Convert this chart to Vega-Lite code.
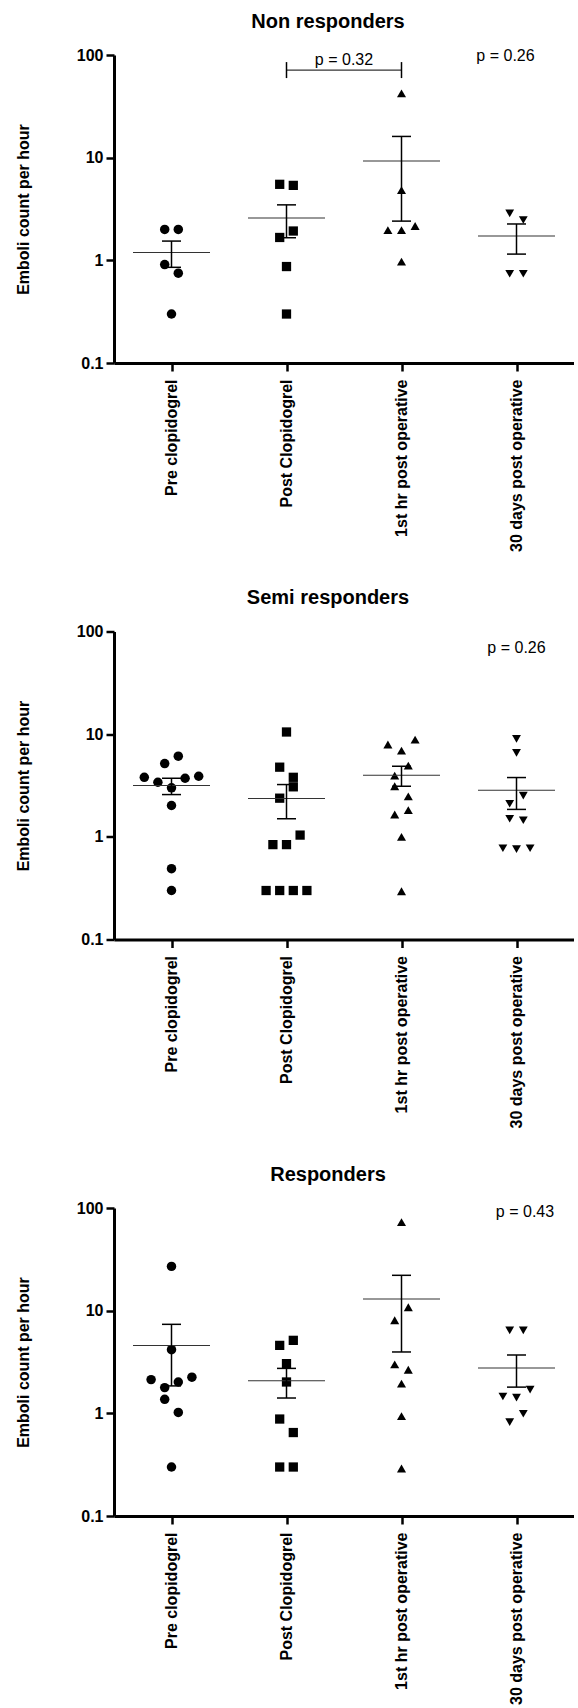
{
  "$schema": "https://vega.github.io/schema/vega-lite/v6.json",
  "padding": {"left": 15, "top": 11, "right": 0, "bottom": 0},
  "spacing": 35.5,
  "datasets": {
    "points": [
      {"panel": "Non responders", "cat": "Pre clopidogrel", "value": 2.0, "slot": -0.5},
      {"panel": "Non responders", "cat": "Pre clopidogrel", "value": 2.0, "slot": 0.5},
      {"panel": "Non responders", "cat": "Pre clopidogrel", "value": 0.91, "slot": -0.5},
      {"panel": "Non responders", "cat": "Pre clopidogrel", "value": 0.75, "slot": 0.5},
      {"panel": "Non responders", "cat": "Pre clopidogrel", "value": 0.30, "slot": 0},
      {"panel": "Non responders", "cat": "Post Clopidogrel", "value": 5.5, "slot": -0.5},
      {"panel": "Non responders", "cat": "Post Clopidogrel", "value": 5.37, "slot": 0.5},
      {"panel": "Non responders", "cat": "Post Clopidogrel", "value": 1.93, "slot": 0.5},
      {"panel": "Non responders", "cat": "Post Clopidogrel", "value": 1.67, "slot": -0.5},
      {"panel": "Non responders", "cat": "Post Clopidogrel", "value": 0.87, "slot": 0},
      {"panel": "Non responders", "cat": "Post Clopidogrel", "value": 0.30, "slot": 0},
      {"panel": "Non responders", "cat": "1st hr post operative", "value": 42.3, "slot": 0},
      {"panel": "Non responders", "cat": "1st hr post operative", "value": 4.83, "slot": 0},
      {"panel": "Non responders", "cat": "1st hr post operative", "value": 1.97, "slot": -1},
      {"panel": "Non responders", "cat": "1st hr post operative", "value": 1.97, "slot": 0},
      {"panel": "Non responders", "cat": "1st hr post operative", "value": 2.16, "slot": 1},
      {"panel": "Non responders", "cat": "1st hr post operative", "value": 0.97, "slot": 0},
      {"panel": "Non responders", "cat": "30 days post operative", "value": 2.87, "slot": -0.5},
      {"panel": "Non responders", "cat": "30 days post operative", "value": 2.47, "slot": 0.5},
      {"panel": "Non responders", "cat": "30 days post operative", "value": 0.74, "slot": -0.5},
      {"panel": "Non responders", "cat": "30 days post operative", "value": 0.74, "slot": 0.5},

      {"panel": "Semi responders", "cat": "Pre clopidogrel", "value": 6.1, "slot": 0.5},
      {"panel": "Semi responders", "cat": "Pre clopidogrel", "value": 5.17, "slot": -0.5},
      {"panel": "Semi responders", "cat": "Pre clopidogrel", "value": 3.80, "slot": -2},
      {"panel": "Semi responders", "cat": "Pre clopidogrel", "value": 3.40, "slot": -1},
      {"panel": "Semi responders", "cat": "Pre clopidogrel", "value": 3.72, "slot": 1},
      {"panel": "Semi responders", "cat": "Pre clopidogrel", "value": 3.89, "slot": 2},
      {"panel": "Semi responders", "cat": "Pre clopidogrel", "value": 3.0, "slot": 0},
      {"panel": "Semi responders", "cat": "Pre clopidogrel", "value": 2.02, "slot": 0},
      {"panel": "Semi responders", "cat": "Pre clopidogrel", "value": 0.49, "slot": 0},
      {"panel": "Semi responders", "cat": "Pre clopidogrel", "value": 0.30, "slot": 0},
      {"panel": "Semi responders", "cat": "Post Clopidogrel", "value": 10.5, "slot": 0},
      {"panel": "Semi responders", "cat": "Post Clopidogrel", "value": 4.77, "slot": -0.5},
      {"panel": "Semi responders", "cat": "Post Clopidogrel", "value": 3.80, "slot": 0.5},
      {"panel": "Semi responders", "cat": "Post Clopidogrel", "value": 3.07, "slot": 0.5},
      {"panel": "Semi responders", "cat": "Post Clopidogrel", "value": 2.38, "slot": -0.5},
      {"panel": "Semi responders", "cat": "Post Clopidogrel", "value": 1.04, "slot": 1},
      {"panel": "Semi responders", "cat": "Post Clopidogrel", "value": 0.84, "slot": -1},
      {"panel": "Semi responders", "cat": "Post Clopidogrel", "value": 0.84, "slot": 0},
      {"panel": "Semi responders", "cat": "Post Clopidogrel", "value": 0.30, "slot": -1.5},
      {"panel": "Semi responders", "cat": "Post Clopidogrel", "value": 0.30, "slot": -0.5},
      {"panel": "Semi responders", "cat": "Post Clopidogrel", "value": 0.30, "slot": 0.5},
      {"panel": "Semi responders", "cat": "Post Clopidogrel", "value": 0.30, "slot": 1.5},
      {"panel": "Semi responders", "cat": "1st hr post operative", "value": 8.85, "slot": 1},
      {"panel": "Semi responders", "cat": "1st hr post operative", "value": 7.93, "slot": -1},
      {"panel": "Semi responders", "cat": "1st hr post operative", "value": 6.92, "slot": 0},
      {"panel": "Semi responders", "cat": "1st hr post operative", "value": 4.94, "slot": 0.5},
      {"panel": "Semi responders", "cat": "1st hr post operative", "value": 3.95, "slot": -0.5},
      {"panel": "Semi responders", "cat": "1st hr post operative", "value": 3.11, "slot": -0.5},
      {"panel": "Semi responders", "cat": "1st hr post operative", "value": 2.48, "slot": 0.5},
      {"panel": "Semi responders", "cat": "1st hr post operative", "value": 1.65, "slot": -0.5},
      {"panel": "Semi responders", "cat": "1st hr post operative", "value": 1.82, "slot": 0.5},
      {"panel": "Semi responders", "cat": "1st hr post operative", "value": 1.0, "slot": 0},
      {"panel": "Semi responders", "cat": "1st hr post operative", "value": 0.295, "slot": 0},
      {"panel": "Semi responders", "cat": "30 days post operative", "value": 9.0, "slot": 0},
      {"panel": "Semi responders", "cat": "30 days post operative", "value": 6.57, "slot": 0},
      {"panel": "Semi responders", "cat": "30 days post operative", "value": 2.52, "slot": 0.5},
      {"panel": "Semi responders", "cat": "30 days post operative", "value": 2.10, "slot": -0.5},
      {"panel": "Semi responders", "cat": "30 days post operative", "value": 1.50, "slot": -0.5},
      {"panel": "Semi responders", "cat": "30 days post operative", "value": 1.45, "slot": 0.5},
      {"panel": "Semi responders", "cat": "30 days post operative", "value": 0.774, "slot": -1},
      {"panel": "Semi responders", "cat": "30 days post operative", "value": 0.76, "slot": 0},
      {"panel": "Semi responders", "cat": "30 days post operative", "value": 0.774, "slot": 1},

      {"panel": "Responders", "cat": "Pre clopidogrel", "value": 27.0, "slot": 0},
      {"panel": "Responders", "cat": "Pre clopidogrel", "value": 4.17, "slot": 0},
      {"panel": "Responders", "cat": "Pre clopidogrel", "value": 2.13, "slot": -1.5},
      {"panel": "Responders", "cat": "Pre clopidogrel", "value": 2.25, "slot": 1.5},
      {"panel": "Responders", "cat": "Pre clopidogrel", "value": 2.02, "slot": 0.5},
      {"panel": "Responders", "cat": "Pre clopidogrel", "value": 1.78, "slot": -0.5},
      {"panel": "Responders", "cat": "Pre clopidogrel", "value": 1.37, "slot": -0.5},
      {"panel": "Responders", "cat": "Pre clopidogrel", "value": 1.02, "slot": 0.5},
      {"panel": "Responders", "cat": "Pre clopidogrel", "value": 0.30, "slot": 0},
      {"panel": "Responders", "cat": "Post Clopidogrel", "value": 4.59, "slot": -0.5},
      {"panel": "Responders", "cat": "Post Clopidogrel", "value": 5.14, "slot": 0.5},
      {"panel": "Responders", "cat": "Post Clopidogrel", "value": 3.05, "slot": 0},
      {"panel": "Responders", "cat": "Post Clopidogrel", "value": 2.02, "slot": 0},
      {"panel": "Responders", "cat": "Post Clopidogrel", "value": 0.88, "slot": -0.5},
      {"panel": "Responders", "cat": "Post Clopidogrel", "value": 0.65, "slot": 0.5},
      {"panel": "Responders", "cat": "Post Clopidogrel", "value": 0.30, "slot": -0.5},
      {"panel": "Responders", "cat": "Post Clopidogrel", "value": 0.30, "slot": 0.5},
      {"panel": "Responders", "cat": "1st hr post operative", "value": 72.9, "slot": 0},
      {"panel": "Responders", "cat": "1st hr post operative", "value": 10.8, "slot": 0.5},
      {"panel": "Responders", "cat": "1st hr post operative", "value": 8.06, "slot": -0.5},
      {"panel": "Responders", "cat": "1st hr post operative", "value": 3.00, "slot": -0.5},
      {"panel": "Responders", "cat": "1st hr post operative", "value": 2.66, "slot": 0.5},
      {"panel": "Responders", "cat": "1st hr post operative", "value": 1.95, "slot": 0},
      {"panel": "Responders", "cat": "1st hr post operative", "value": 0.94, "slot": 0},
      {"panel": "Responders", "cat": "1st hr post operative", "value": 0.29, "slot": 0},
      {"panel": "Responders", "cat": "30 days post operative", "value": 6.43, "slot": -0.5},
      {"panel": "Responders", "cat": "30 days post operative", "value": 6.43, "slot": 0.5},
      {"panel": "Responders", "cat": "30 days post operative", "value": 1.70, "slot": 1},
      {"panel": "Responders", "cat": "30 days post operative", "value": 1.46, "slot": -1},
      {"panel": "Responders", "cat": "30 days post operative", "value": 1.42, "slot": 0},
      {"panel": "Responders", "cat": "30 days post operative", "value": 0.99, "slot": 0.5},
      {"panel": "Responders", "cat": "30 days post operative", "value": 0.82, "slot": -0.5}
    ],
    "stats": [
      {"panel": "Non responders", "cat": "Pre clopidogrel", "mean": 1.19, "lo": 0.855, "hi": 1.54},
      {"panel": "Non responders", "cat": "Post Clopidogrel", "mean": 2.58, "lo": 1.66, "hi": 3.47},
      {"panel": "Non responders", "cat": "1st hr post operative", "mean": 9.27, "lo": 2.41, "hi": 16.1},
      {"panel": "Non responders", "cat": "30 days post operative", "mean": 1.73, "lo": 1.15, "hi": 2.26},
      {"panel": "Semi responders", "cat": "Pre clopidogrel", "mean": 3.16, "lo": 2.58, "hi": 3.72},
      {"panel": "Semi responders", "cat": "Post Clopidogrel", "mean": 2.36, "lo": 1.50, "hi": 3.23},
      {"panel": "Semi responders", "cat": "1st hr post operative", "mean": 3.98, "lo": 3.11, "hi": 4.87},
      {"panel": "Semi responders", "cat": "30 days post operative", "mean": 2.85, "lo": 1.85, "hi": 3.78},
      {"panel": "Responders", "cat": "Pre clopidogrel", "mean": 4.59, "lo": 1.85, "hi": 7.36},
      {"panel": "Responders", "cat": "Post Clopidogrel", "mean": 2.08, "lo": 1.41, "hi": 2.74},
      {"panel": "Responders", "cat": "1st hr post operative", "mean": 12.97, "lo": 3.96, "hi": 22.1},
      {"panel": "Responders", "cat": "30 days post operative", "mean": 2.76, "lo": 1.80, "hi": 3.70}
    ],
    "notes": [
      {"panel": "Non responders", "cat": "30 days post operative", "y": 97.5, "label": "p = 0.26"},
      {"panel": "Semi responders", "cat": "30 days post operative", "y": 69.7, "label": "p = 0.26"},
      {"panel": "Responders", "cat": "30 days post operative", "y": 91, "label": "p = 0.43"}
    ],
    "bracket": [
      {"cat": "Post Clopidogrel", "cat2": "1st hr post operative", "y": 71.3, "label": "p = 0.32", "ty": 89.1}
    ],
    "bracketEnds": [
      {"cat": "Post Clopidogrel", "lo": 59.6, "hi": 85.3},
      {"cat": "1st hr post operative", "lo": 59.6, "hi": 85.3}
    ]
  },
  "vconcat": [
    {
      "title": {"text": "Non responders"},
      "width": 460, "height": 308,
      "encoding": {
        "x": {"field": "cat", "type": "nominal", "title": null,
              "scale": {"type": "point", "padding": 0.5, "domain": ["Pre clopidogrel", "Post Clopidogrel", "1st hr post operative", "30 days post operative"]},
              "axis": {"labelAngle": -90, "labelPadding": 8}}
      },
      "layer": [
        {"data": {"name": "points"}, "transform": [{"filter": "datum.panel == 'Non responders'"}],
         "mark": {"type": "point", "filled": true, "opacity": 1, "color": "#000", "strokeWidth": 0},
         "encoding": {
           "xOffset": {"field": "slot", "type": "quantitative", "scale": {"domain": [-2, 2], "range": [-27.2, 27.2]}},
           "y": {"field": "value", "type": "quantitative", "title": "Emboli count per hour", "scale": {"type": "log", "domain": [0.1, 100], "nice": false}, "axis": {"values": [0.1, 1, 10, 100], "format": "~g"}},
           "shape": {"field": "cat", "type": "nominal", "legend": null, "scale": {"domain": ["Pre clopidogrel", "Post Clopidogrel", "1st hr post operative", "30 days post operative"], "range": ["circle", "square", "triangle-up", "triangle-down"]}},
           "size": {"field": "cat", "type": "nominal", "legend": null, "scale": {"domain": ["Pre clopidogrel", "Post Clopidogrel", "1st hr post operative", "30 days post operative"], "range": [90, 78, 100, 100]}}
         }},
        {"data": {"name": "stats"}, "transform": [{"filter": "datum.panel == 'Non responders'"}],
         "mark": {"type": "tick", "size": 77, "thickness": 1, "color": "#333", "opacity": 1},
         "encoding": {"y": {"field": "mean", "type": "quantitative", "title": "Emboli count per hour"}}},
        {"data": {"name": "stats"}, "transform": [{"filter": "datum.panel == 'Non responders'"}],
         "mark": {"type": "rule", "strokeWidth": 1.5, "color": "#000"},
         "encoding": {"y": {"field": "lo", "type": "quantitative", "title": "Emboli count per hour"}, "y2": {"field": "hi"}}},
        {"data": {"name": "stats"}, "transform": [{"filter": "datum.panel == 'Non responders'"}],
         "mark": {"type": "tick", "size": 19, "thickness": 1.5, "color": "#000", "opacity": 1},
         "encoding": {"y": {"field": "hi", "type": "quantitative", "title": "Emboli count per hour"}}},
        {"data": {"name": "stats"}, "transform": [{"filter": "datum.panel == 'Non responders'"}],
         "mark": {"type": "tick", "size": 19, "thickness": 1.5, "color": "#000", "opacity": 1},
         "encoding": {"y": {"field": "lo", "type": "quantitative", "title": "Emboli count per hour"}}},
        {"data": {"name": "bracket"},
         "mark": {"type": "rule", "strokeWidth": 1.2, "color": "#333"},
         "encoding": {"x2": {"field": "cat2"}, "y": {"field": "y", "type": "quantitative", "title": "Emboli count per hour"}}},
        {"data": {"name": "bracketEnds"},
         "mark": {"type": "rule", "strokeWidth": 1.5, "color": "#000"},
         "encoding": {"y": {"field": "lo", "type": "quantitative", "title": "Emboli count per hour"}, "y2": {"field": "hi"}}},
        {"data": {"name": "bracket"},
         "mark": {"type": "text", "fontSize": 16, "font": "Liberation Sans", "color": "#000", "align": "center", "baseline": "middle", "dx": 57.5},
         "encoding": {"y": {"field": "ty", "type": "quantitative", "title": "Emboli count per hour"}, "text": {"field": "label"}}},
        {"data": {"name": "notes"}, "transform": [{"filter": "datum.panel == 'Non responders'"}],
         "mark": {"type": "text", "fontSize": 16, "font": "Liberation Sans", "color": "#000", "align": "center", "baseline": "middle", "dx": -11},
         "encoding": {"y": {"field": "y", "type": "quantitative", "title": "Emboli count per hour"}, "text": {"field": "label"}}}
      ]
    },
    {
      "title": {"text": "Semi responders"},
      "width": 460, "height": 308,
      "encoding": {
        "x": {"field": "cat", "type": "nominal", "title": null,
              "scale": {"type": "point", "padding": 0.5, "domain": ["Pre clopidogrel", "Post Clopidogrel", "1st hr post operative", "30 days post operative"]},
              "axis": {"labelAngle": -90, "labelPadding": 8}}
      },
      "layer": [
        {"data": {"name": "points"}, "transform": [{"filter": "datum.panel == 'Semi responders'"}],
         "mark": {"type": "point", "filled": true, "opacity": 1, "color": "#000", "strokeWidth": 0},
         "encoding": {
           "xOffset": {"field": "slot", "type": "quantitative", "scale": {"domain": [-2, 2], "range": [-27.2, 27.2]}},
           "y": {"field": "value", "type": "quantitative", "title": "Emboli count per hour", "scale": {"type": "log", "domain": [0.1, 100], "nice": false}, "axis": {"values": [0.1, 1, 10, 100], "format": "~g"}},
           "shape": {"field": "cat", "type": "nominal", "legend": null, "scale": {"domain": ["Pre clopidogrel", "Post Clopidogrel", "1st hr post operative", "30 days post operative"], "range": ["circle", "square", "triangle-up", "triangle-down"]}},
           "size": {"field": "cat", "type": "nominal", "legend": null, "scale": {"domain": ["Pre clopidogrel", "Post Clopidogrel", "1st hr post operative", "30 days post operative"], "range": [90, 78, 100, 100]}}
         }},
        {"data": {"name": "stats"}, "transform": [{"filter": "datum.panel == 'Semi responders'"}],
         "mark": {"type": "tick", "size": 77, "thickness": 1, "color": "#333", "opacity": 1},
         "encoding": {"y": {"field": "mean", "type": "quantitative", "title": "Emboli count per hour"}}},
        {"data": {"name": "stats"}, "transform": [{"filter": "datum.panel == 'Semi responders'"}],
         "mark": {"type": "rule", "strokeWidth": 1.5, "color": "#000"},
         "encoding": {"y": {"field": "lo", "type": "quantitative", "title": "Emboli count per hour"}, "y2": {"field": "hi"}}},
        {"data": {"name": "stats"}, "transform": [{"filter": "datum.panel == 'Semi responders'"}],
         "mark": {"type": "tick", "size": 19, "thickness": 1.5, "color": "#000", "opacity": 1},
         "encoding": {"y": {"field": "hi", "type": "quantitative", "title": "Emboli count per hour"}}},
        {"data": {"name": "stats"}, "transform": [{"filter": "datum.panel == 'Semi responders'"}],
         "mark": {"type": "tick", "size": 19, "thickness": 1.5, "color": "#000", "opacity": 1},
         "encoding": {"y": {"field": "lo", "type": "quantitative", "title": "Emboli count per hour"}}},
        {"data": {"name": "notes"}, "transform": [{"filter": "datum.panel == 'Semi responders'"}],
         "mark": {"type": "text", "fontSize": 16, "font": "Liberation Sans", "color": "#000", "align": "center", "baseline": "middle", "dx": 0},
         "encoding": {"y": {"field": "y", "type": "quantitative", "title": "Emboli count per hour"}, "text": {"field": "label"}}}
      ]
    },
    {
      "title": {"text": "Responders"},
      "width": 460, "height": 308,
      "encoding": {
        "x": {"field": "cat", "type": "nominal", "title": null,
              "scale": {"type": "point", "padding": 0.5, "domain": ["Pre clopidogrel", "Post Clopidogrel", "1st hr post operative", "30 days post operative"]},
              "axis": {"labelAngle": -90, "labelPadding": 8}}
      },
      "layer": [
        {"data": {"name": "points"}, "transform": [{"filter": "datum.panel == 'Responders'"}],
         "mark": {"type": "point", "filled": true, "opacity": 1, "color": "#000", "strokeWidth": 0},
         "encoding": {
           "xOffset": {"field": "slot", "type": "quantitative", "scale": {"domain": [-2, 2], "range": [-27.2, 27.2]}},
           "y": {"field": "value", "type": "quantitative", "title": "Emboli count per hour", "scale": {"type": "log", "domain": [0.1, 100], "nice": false}, "axis": {"values": [0.1, 1, 10, 100], "format": "~g"}},
           "shape": {"field": "cat", "type": "nominal", "legend": null, "scale": {"domain": ["Pre clopidogrel", "Post Clopidogrel", "1st hr post operative", "30 days post operative"], "range": ["circle", "square", "triangle-up", "triangle-down"]}},
           "size": {"field": "cat", "type": "nominal", "legend": null, "scale": {"domain": ["Pre clopidogrel", "Post Clopidogrel", "1st hr post operative", "30 days post operative"], "range": [90, 78, 100, 100]}}
         }},
        {"data": {"name": "stats"}, "transform": [{"filter": "datum.panel == 'Responders'"}],
         "mark": {"type": "tick", "size": 77, "thickness": 1, "color": "#333", "opacity": 1},
         "encoding": {"y": {"field": "mean", "type": "quantitative", "title": "Emboli count per hour"}}},
        {"data": {"name": "stats"}, "transform": [{"filter": "datum.panel == 'Responders'"}],
         "mark": {"type": "rule", "strokeWidth": 1.5, "color": "#000"},
         "encoding": {"y": {"field": "lo", "type": "quantitative", "title": "Emboli count per hour"}, "y2": {"field": "hi"}}},
        {"data": {"name": "stats"}, "transform": [{"filter": "datum.panel == 'Responders'"}],
         "mark": {"type": "tick", "size": 19, "thickness": 1.5, "color": "#000", "opacity": 1},
         "encoding": {"y": {"field": "hi", "type": "quantitative", "title": "Emboli count per hour"}}},
        {"data": {"name": "stats"}, "transform": [{"filter": "datum.panel == 'Responders'"}],
         "mark": {"type": "tick", "size": 19, "thickness": 1.5, "color": "#000", "opacity": 1},
         "encoding": {"y": {"field": "lo", "type": "quantitative", "title": "Emboli count per hour"}}},
        {"data": {"name": "notes"}, "transform": [{"filter": "datum.panel == 'Responders'"}],
         "mark": {"type": "text", "fontSize": 16, "font": "Liberation Sans", "color": "#000", "align": "center", "baseline": "middle", "dx": 8.5},
         "encoding": {"y": {"field": "y", "type": "quantitative", "title": "Emboli count per hour"}, "text": {"field": "label"}}}
      ]
    }
  ],
  "config": {
    "font": "Liberation Sans",
    "view": {"stroke": null},
    "axis": {"grid": false, "domainColor": "#000", "domainWidth": 3, "tickColor": "#000", "tickWidth": 2.5, "tickSize": 8,
             "labelFont": "Liberation Sans", "labelFontWeight": "bold", "labelFontSize": 16, "labelColor": "#000",
             "titleFont": "Liberation Sans", "titleFontSize": 16, "titleFontWeight": "bold", "titleColor": "#000"},
    "axisY": {"labelPadding": 3, "titlePadding": 45},
    "title": {"font": "Liberation Sans", "fontSize": 20, "fontWeight": "bold", "color": "#000", "offset": 15.4, "baseline": "alphabetic", "dx": -16, "anchor": "middle"}
  }
}
